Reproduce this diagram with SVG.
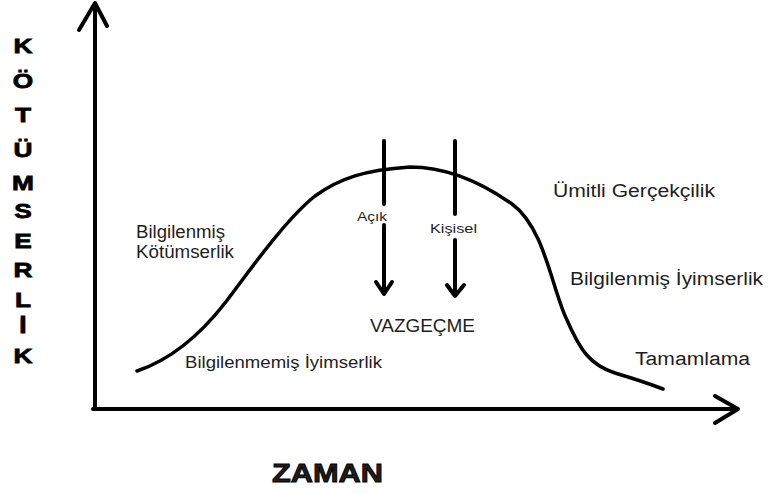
<svg xmlns="http://www.w3.org/2000/svg" width="768" height="493" viewBox="0 0 768 493">
<style>
.ln{fill:none;stroke:#000;stroke-width:4;stroke-linecap:round;stroke-linejoin:round}
.cv{fill:none;stroke:#000;stroke-width:3.5;stroke-linecap:round;stroke-linejoin:round}
.t{font-family:"Liberation Sans",Arial,sans-serif;fill:#1e1e1e}
.yl{font-family:"Liberation Sans",Arial,sans-serif;font-weight:bold;font-size:21px;fill:#000;stroke:#000;stroke-width:0.8;text-anchor:middle}
</style>
<rect width="768" height="493" fill="#fff"/>
<g id="connectors">
  <g id="y-axis">
    <path class="ln" d="M95,409 L95,4"/>
    <path class="ln" d="M79,30 L95,3 L107,26"/>
  </g>
  <g id="x-axis">
    <path class="ln" d="M93,409 L737,409"/>
    <path class="ln" d="M715,396 L738,409 L715,423"/>
  </g>
  <g id="curve">
    <path class="cv" d="M137,371 C170,360 200,335 225,303 C250,270 285,220 315,196 C340,178 365,170 410,167 C450,167 485,185 512,204 C545,228 552,290 567,320 C580,350 590,365 615,373 C635,379 650,384 663,389"/>
  </g>
  <g id="arrow-acik">
    <path class="ln" d="M384,141 L384,204 M384,225 L384,292"/>
    <path class="ln" d="M376,282 L384,294 L392,282"/>
  </g>
  <g id="arrow-kisisel">
    <path class="ln" d="M455,141 L455,214 M455,240 L455,294"/>
    <path class="ln" d="M447,285 L455,296 L464,285"/>
  </g>
</g>
<g id="y-label" transform="scale(1.25,1)">
  <text class="yl" x="18.4" y="53">K</text>
  <text class="yl" x="18.4" y="88">Ö</text>
  <text class="yl" x="18.4" y="122">T</text>
  <text class="yl" x="18.4" y="157">Ü</text>
  <text class="yl" x="18.4" y="190">M</text>
  <text class="yl" x="18.4" y="218">S</text>
  <text class="yl" x="18.4" y="248">E</text>
  <text class="yl" x="18.4" y="277">R</text>
  <text class="yl" x="18.4" y="307">L</text>
  <text class="yl" x="18.4" y="333">İ</text>
  <text class="yl" x="18.4" y="363">K</text>
</g>
<g id="x-label">
  <text class="t" x="272" y="482" font-size="26" font-weight="bold" fill="#000" stroke="#000" stroke-width="0.9" textLength="111" lengthAdjust="spacingAndGlyphs">ZAMAN</text>
</g>
<g id="bilgilenmis-kotumserlik">
  <text class="t" x="136" y="238" font-size="18" textLength="89" lengthAdjust="spacingAndGlyphs">Bilgilenmiş</text>
  <text class="t" x="136" y="258" font-size="18" textLength="98" lengthAdjust="spacingAndGlyphs">Kötümserlik</text>
</g>
<g id="bilgilenmemis-iyimserlik">
  <text class="t" x="185" y="368" font-size="17" textLength="197" lengthAdjust="spacingAndGlyphs">Bilgilenmemiş İyimserlik</text>
</g>
<g id="acik">
  <text class="t" x="357" y="221" font-size="13.5" textLength="30" lengthAdjust="spacingAndGlyphs">Açık</text>
</g>
<g id="kisisel">
  <text class="t" x="430" y="233" font-size="13.5" textLength="47" lengthAdjust="spacingAndGlyphs">Kişisel</text>
</g>
<g id="vazgecme">
  <text class="t" x="370" y="332" font-size="18" textLength="105" lengthAdjust="spacingAndGlyphs">VAZGEÇME</text>
</g>
<g id="umitli-gercekcilik">
  <text class="t" x="553" y="197" font-size="18" textLength="162" lengthAdjust="spacingAndGlyphs">Ümitli Gerçekçilik</text>
</g>
<g id="bilgilenmis-iyimserlik">
  <text class="t" x="570" y="285" font-size="18" textLength="193" lengthAdjust="spacingAndGlyphs">Bilgilenmiş İyimserlik</text>
</g>
<g id="tamamlama">
  <text class="t" x="635" y="365" font-size="18" textLength="115" lengthAdjust="spacingAndGlyphs">Tamamlama</text>
</g>
</svg>
